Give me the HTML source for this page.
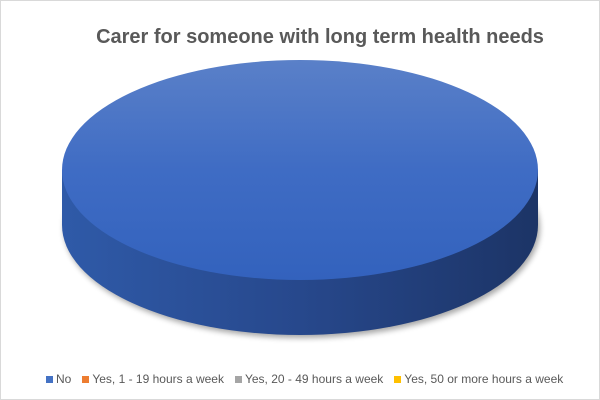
<!DOCTYPE html>
<html><head><style>
body{margin:0;width:600px;height:400px;overflow:hidden;background:#fff;font-family:"Liberation Sans",sans-serif}
.f{position:absolute;left:0;top:0;width:598px;height:398px;border:1px solid #d9d9d9}
.t{position:absolute;top:26px;left:20px;width:600px;text-align:center;font-size:20px;font-weight:bold;color:#595959}
.l{position:absolute;top:372px;left:46px;font-size:12px;color:#595959;white-space:nowrap}
.l span{display:inline-block;margin-right:11px}
.l i{display:inline-block;width:7px;height:7px;margin-right:3px}
</style></head><body>
<div class="f"></div>
<div class="t">Carer for someone with long term health needs</div>
<svg width="600" height="400" style="position:absolute;left:0;top:0">
<defs>
<linearGradient id="s" x1="0" x2="1" y1="0" y2="0">
<stop offset="0" stop-color="#2f5aa8"/><stop offset="0.5" stop-color="#27488c"/><stop offset="1" stop-color="#1c3466"/></linearGradient>
<linearGradient id="tp" x1="0" x2="0" y1="0" y2="1">
<stop offset="0" stop-color="#5a80c8"/><stop offset="0.5" stop-color="#3f6cc4"/><stop offset="1" stop-color="#3362bd"/></linearGradient>
<filter id="sh"><feGaussianBlur stdDeviation="3"/></filter>
</defs>
<ellipse cx="302" cy="228" rx="238" ry="110" fill="#000" opacity="0.35" filter="url(#sh)"/>
<path d="M62 170 L62 225 A238 110 0 0 0 538 225 L538 170 Z" fill="url(#s)"/>
<ellipse cx="300" cy="170" rx="238" ry="110" fill="url(#tp)"/>
</svg>
<div class="l"><span><i style="background:#4472c4"></i>No</span><span><i style="background:#ed7d31"></i>Yes, 1 - 19 hours a week</span><span><i style="background:#a5a5a5"></i>Yes, 20 - 49 hours a week</span><span><i style="background:#ffc000"></i>Yes, 50 or more hours a week</span></div>
</body></html>
